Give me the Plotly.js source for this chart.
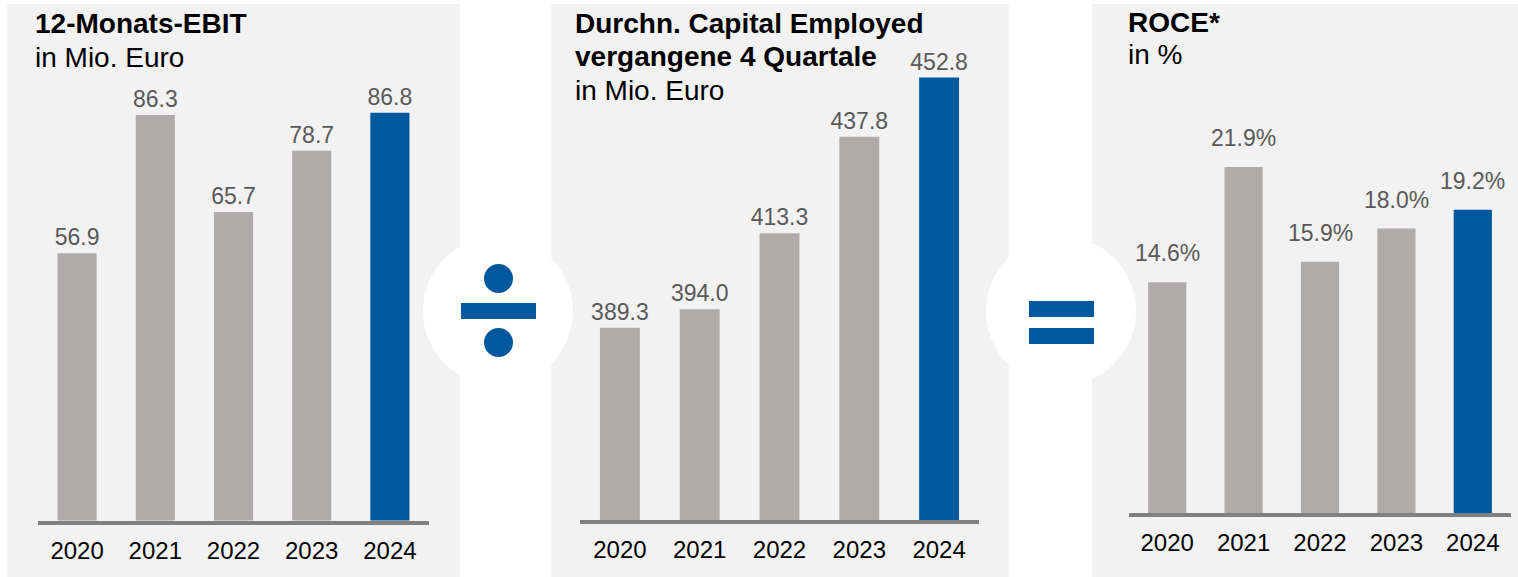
<!DOCTYPE html>
<html>
<head>
<meta charset="utf-8">
<script src="https://cdn.plot.ly/plotly-3.0.1.min.js"></script>
<style>html,body{margin:0;padding:0;background:#fff;}#chart{width:1518px;height:577px;}</style>
</head>
<body>
<div id="chart"></div>
<script>
// ---- data ----
const years = ["2020", "2021", "2022", "2023", "2024"];
const ebit = [56.9, 86.3, 65.7, 78.7, 86.8];
const capitalEmployed = [389.3, 394.0, 413.3, 437.8, 452.8];
const roce = [14.6, 21.9, 15.9, 18.0, 19.2];
const titles1 = ["12-Monats-EBIT", "in Mio. Euro"];
const titles2 = ["Durchn. Capital Employed", "vergangene 4 Quartale", "in Mio. Euro"];
const titles3 = ["ROCE*", "in %"];

// ---- style ----
const W = 1518, H = 577;
const GRAY = "#afabab", BLUE = "#00589d", BG = "#f2f2f2", AXIS = "#808080";
const FONT = "Liberation Sans, Arial, sans-serif";
const px = v => v / W;
const py = v => 1 - v / H;
const colors = years.map((y, i) => i === years.length - 1 ? BLUE : GRAY);

function barTrace(vals, xa, ya, fmt) {
  const t = {
    type: "bar", x: years, y: vals, xaxis: xa, yaxis: ya,
    marker: {color: colors, line: {width: 0}},
    cliponaxis: false, constraintext: "none",
    textfont: {family: FONT, size: 23, color: "#595959"},
    hoverinfo: "x+y", showlegend: false
  };
  if (fmt) { t.text = vals.map(fmt); t.textposition = "outside"; }
  return t;
}

const data = [
  barTrace(ebit, "x", "y", v => v.toFixed(1)),
  barTrace(capitalEmployed, "x2", "y2", v => v.toFixed(1)),
  barTrace(roce, "x3", "y3", null)
];

function xax(d0, d1, anchor) {
  return {
    domain: [px(d0), px(d1)], anchor: anchor, type: "category",
    range: [-0.5, years.length - 0.5],
    showline: true, linewidth: 4, linecolor: AXIS, ticks: "",
    ticklabelstandoff: 5,
    showgrid: false, zeroline: false, fixedrange: true,
    tickfont: {family: FONT, size: 24, color: "#000"}
  };
}
function yax(bottom, top, range, anchor) {
  return {
    domain: [py(bottom), py(top)], anchor: anchor, range: range,
    showticklabels: false, showgrid: false, zeroline: false, showline: false,
    ticks: "", fixedrange: true
  };
}

const shapes = [];
// panel backgrounds
[[7, 460], [551, 1009], [1092, 1518]].forEach(([a, b]) => {
  shapes.push({type: "rect", xref: "paper", yref: "paper", layer: "below",
    x0: px(a), x1: px(b), y0: py(577), y1: py(4), fillcolor: BG, line: {width: 0}});
});
// white circles
[[498, 311], [1061, 311]].forEach(([cx, cy]) => {
  shapes.push({type: "circle", xref: "paper", yref: "paper", layer: "below",
    x0: px(cx - 75), x1: px(cx + 75), y0: py(cy + 75), y1: py(cy - 75),
    fillcolor: "#ffffff", line: {width: 0}});
});
// division sign
shapes.push({type: "circle", xref: "paper", yref: "paper", x0: px(484), x1: px(513), y0: py(293), y1: py(264), fillcolor: BLUE, line: {width: 0}});
shapes.push({type: "circle", xref: "paper", yref: "paper", x0: px(484), x1: px(513), y0: py(357), y1: py(328), fillcolor: BLUE, line: {width: 0}});
shapes.push({type: "rect", xref: "paper", yref: "paper", x0: px(461), x1: px(536), y0: py(319), y1: py(303), fillcolor: BLUE, line: {width: 0}});
// equals sign
shapes.push({type: "rect", xref: "paper", yref: "paper", x0: px(1029), x1: px(1094), y0: py(317), y1: py(301), fillcolor: BLUE, line: {width: 0}});
shapes.push({type: "rect", xref: "paper", yref: "paper", x0: px(1029), x1: px(1094), y0: py(344), y1: py(328), fillcolor: BLUE, line: {width: 0}});

const annotations = [];
function addTitles(lines, x, ys) {
  lines.forEach((t, i) => {
    annotations.push({
      xref: "paper", yref: "paper", x: px(x), y: py(ys[i]),
      xanchor: "left", yanchor: "middle", showarrow: false,
      text: i === 0 || (lines.length === 3 && i === 1) ? "<b>" + t + "</b>" : t,
      font: {family: FONT, size: 28, color: "#000"}
    });
  });
}
addTitles(titles1, 33, [23.5, 57.5]);
addTitles(titles2, 573, [23.5, 56.5, 90]);
addTitles(titles3, 1126, [22, 55]);

// ROCE value labels (sit higher above the bars in the reference)
years.forEach((yr, i) => {
  annotations.push({
    xref: "x3", yref: "y3", x: i, y: roce[i], yanchor: "bottom", yshift: 14,
    showarrow: false, text: roce[i].toFixed(1) + "%",
    font: {family: FONT, size: 23, color: "#595959"}
  });
});

const layout = {
  width: W, height: H,
  margin: {l: 0, r: 0, t: 0, b: 0},
  paper_bgcolor: "#ffffff", plot_bgcolor: "rgba(0,0,0,0)",
  bargap: 0.5, showlegend: false,
  font: {family: FONT},
  xaxis: xax(38, 429, "y"),
  yaxis: yax(520.7, 50.7, [0, 100], "x"),
  xaxis2: xax(580, 979, "y2"),
  yaxis2: yax(520, 50, [340.5, 459.8], "x2"),
  xaxis3: xax(1129, 1511, "y3"),
  yaxis3: yax(513, 118, [0, 25], "x3"),
  shapes: shapes,
  annotations: annotations
};

Plotly.newPlot("chart", data, layout, {displayModeBar: false, staticPlot: true});
</script>
</body>
</html>
